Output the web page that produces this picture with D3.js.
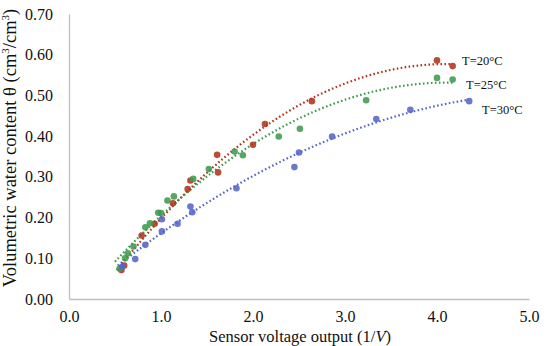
<!DOCTYPE html>
<html>
<head>
<meta charset="utf-8">
<script src="https://cdn.jsdelivr.net/npm/d3@7"></script>
<style>
  body { margin: 0; background: #fff; }
  svg text { font-family: "Times New Roman", "Liberation Serif", serif; }
</style>
</head>
<body>
<svg width="550" height="346"></svg>
<script>
// readings: [sensor output 1/V, theta]
const t20 = [
  [0.57, 0.071], [0.60, 0.082], [0.79, 0.156], [0.93, 0.185], [1.13, 0.235],
  [1.29, 0.270], [1.32, 0.291], [1.62, 0.311], [1.61, 0.354], [2.00, 0.379],
  [2.13, 0.430], [2.64, 0.486], [4.00, 0.586], [4.17, 0.572]
];
const t25 = [
  [0.55, 0.075], [0.61, 0.100], [0.64, 0.112], [0.70, 0.129], [0.83, 0.176],
  [0.88, 0.186], [0.97, 0.212], [1.00, 0.211], [1.07, 0.242], [1.14, 0.252],
  [1.35, 0.295], [1.52, 0.319], [1.80, 0.362], [1.89, 0.353], [2.28, 0.399],
  [2.51, 0.418], [3.23, 0.488], [4.00, 0.543], [4.17, 0.539]
];
const t30 = [
  [0.58, 0.080], [0.72, 0.098], [0.83, 0.133], [1.01, 0.166], [1.01, 0.196],
  [1.18, 0.185], [1.32, 0.227], [1.34, 0.213], [1.82, 0.272], [2.45, 0.324],
  [2.50, 0.360], [2.86, 0.399], [3.34, 0.442], [3.71, 0.465], [4.35, 0.486]
];
const seriesNames = ["T=20°C", "T=25°C", "T=30°C"];
const seriesColors = ["#b0341c", "#3f9a4e", "#5565c8"];
const xTicks = [0, 1, 2, 3, 4, 5];
const yTicks = [0, 0.1, 0.2, 0.3, 0.4, 0.5, 0.6, 0.7];

const svg = d3.select("svg");
const x = d3.scaleLinear().domain([0, 5]).range([69, 529]);
const y = d3.scaleLinear().domain([0, 0.7]).range([299, 14]);

// least squares 2nd order polynomial, like the spreadsheet trendline
function polyFit(pts) {
  let s = [0, 0, 0, 0, 0], t = [0, 0, 0];
  pts.forEach(([a, b]) => {
    for (let k = 0; k < 5; k++) s[k] += Math.pow(a, k);
    for (let k = 0; k < 3; k++) t[k] += b * Math.pow(a, k);
  });
  let m = [[s[0], s[1], s[2], t[0]], [s[1], s[2], s[3], t[1]], [s[2], s[3], s[4], t[2]]];
  for (let i = 0; i < 3; i++) {
    for (let j = i + 1; j < 3; j++) {
      let f = m[j][i] / m[i][i];
      for (let k = i; k < 4; k++) m[j][k] -= f * m[i][k];
    }
  }
  let c = [0, 0, 0];
  for (let i = 2; i >= 0; i--) {
    let v = m[i][3];
    for (let k = i + 1; k < 3; k++) v -= m[i][k] * c[k];
    c[i] = v / m[i][i];
  }
  return c;
}

// axes
let xAxis = svg.append("g")
    .attr("transform", `translate(0,${y(0)})`)
    .call(d3.axisBottom(x).tickValues(xTicks).tickSize(0).tickPadding(12).tickFormat(d3.format(".1f")));
let yAxis = svg.append("g")
    .attr("transform", `translate(${x(0)},0)`)
    .call(d3.axisLeft(y).tickValues(yTicks).tickSize(0).tickPadding(16).tickFormat(d3.format(".2f")));

[xAxis, yAxis].forEach(g => {
  g.attr("font-family", null);
  g.select(".domain").attr("stroke", "#bfbfbf").attr("stroke-width", 1.3);
  g.selectAll("text").attr("font-size", 16).attr("fill", "#111");
});

// series
let all = [t20, t25, t30];
let plot = svg.append("g");
all.forEach((pts, i) => {
  let c = polyFit(pts);
  let x0 = d3.min(pts, d => d[0]) - 0.05, x1 = d3.max(pts, d => d[0]);
  let line = d3.line().x(d => x(d)).y(d => y(c[0] + c[1] * d + c[2] * d * d));
  plot.append("path")
      .datum(d3.range(x0, x1, 0.02).concat([x1]))
      .attr("d", line)
      .attr("fill", "none")
      .attr("stroke", seriesColors[i])
      .attr("stroke-width", 2.2)
      .attr("stroke-dasharray", "1.6,2.4");
});
all.forEach((pts, i) => {
  plot.append("g")
      .selectAll("circle")
      .data(pts)
      .enter().append("circle")
      .attr("cx", d => x(d[0]))
      .attr("cy", d => y(d[1]))
      .attr("r", 3.3)
      .attr("fill", seriesColors[i])
      .attr("fill-opacity", 0.88);
});

// series labels
let labelPos = [[462, 65], [466, 89], [482, 114]];
seriesNames.forEach((n, i) => {
  svg.append("text")
      .attr("x", labelPos[i][0])
      .attr("y", labelPos[i][1])
      .attr("font-size", 12.5)
      .attr("fill", "#111")
      .text(n);
});

// axis titles
svg.append("text")
    .attr("x", 300)
    .attr("y", 342)
    .attr("text-anchor", "middle")
    .attr("font-size", 16.5)
    .attr("fill", "#111")
    .html("Sensor voltage output (1/<tspan font-style='italic'>V</tspan>)");

let yt = svg.append("text")
    .attr("transform", "translate(16,148) rotate(-90)")
    .attr("text-anchor", "middle")
    .attr("font-size", 18.5)
    .attr("fill", "#111");
yt.append("tspan").text("Volumetric water content θ (cm");
yt.append("tspan").attr("dy", -7).attr("font-size", 11).text("3");
yt.append("tspan").attr("dy", 7).text("/cm");
yt.append("tspan").attr("dy", -7).attr("font-size", 11).text("3");
yt.append("tspan").attr("dy", 7).text(")");
</script>
</body>
</html>
